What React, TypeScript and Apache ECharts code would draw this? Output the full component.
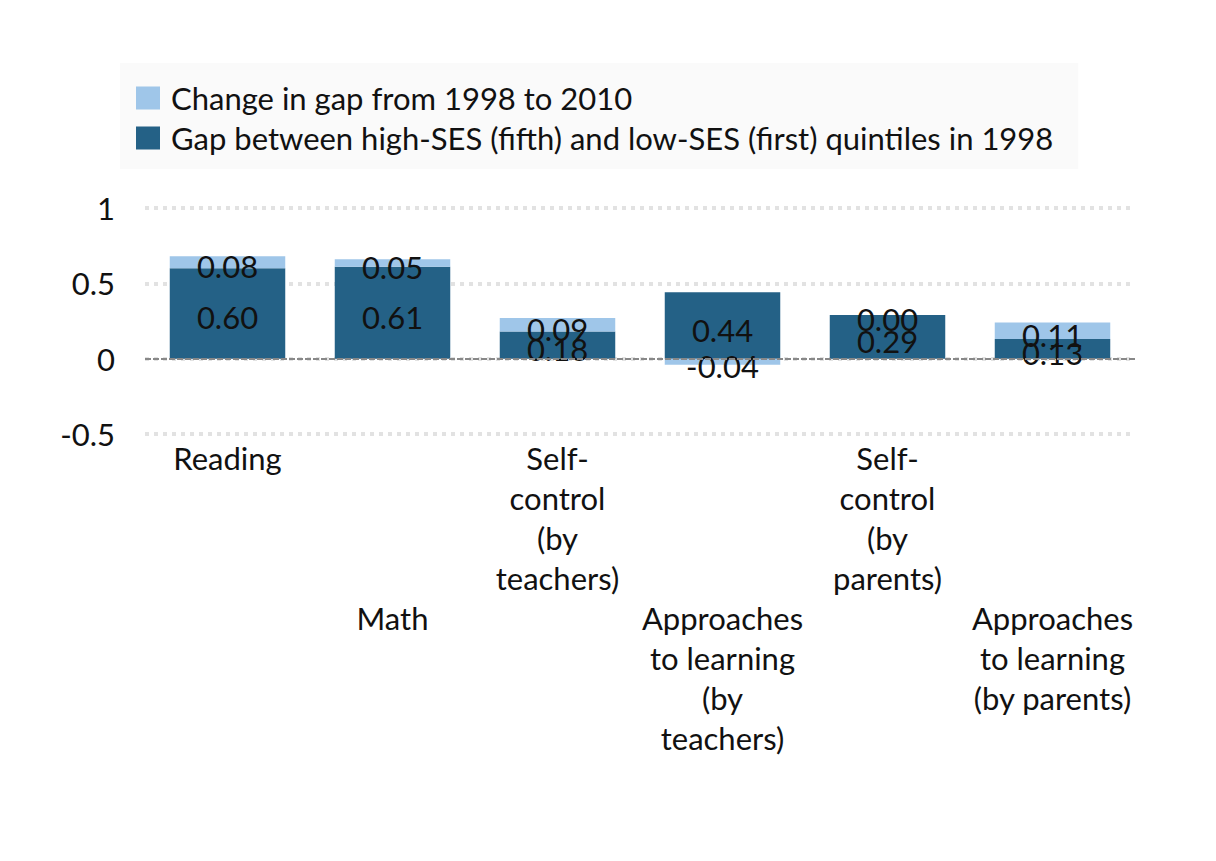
import React, { useEffect, useRef } from "react";
import * as echarts from "echarts";

const categories = [
  "Reading",
  "Math",
  "Self-\ncontrol\n(by\nteachers)",
  "Approaches\nto learning\n(by\nteachers)",
  "Self-\ncontrol\n(by\nparents)",
  "Approaches\nto learning\n(by parents)",
];
const gap1998 = [0.6, 0.61, 0.18, 0.44, 0.29, 0.13];
const change1998to2010 = [0.08, 0.05, 0.09, -0.04, 0.0, 0.11];
const gapName = "Gap between high-SES (fifth) and low-SES (first) quintiles in 1998";
const changeName = "Change in gap from 1998 to 2010";

const FONT = "Lato";
const FS = 31;

export default function App() {
  const ref = useRef<HTMLDivElement>(null);
  useEffect(() => {
    if (!ref.current) return;
    const chart = echarts.init(ref.current, null, { renderer: "svg" });
    const labelCfg = {
      show: true,
      position: "inside",
      color: "#111",
      fontSize: FS,
      fontFamily: FONT,
      offset: [0, 4],
      formatter: (p: any) => Number(p.value).toFixed(2),
    };
    chart.setOption({
      animation: false,
      backgroundColor: "#fff",
      textStyle: { fontFamily: FONT },
      legend: {
        orient: "vertical",
        left: 120,
        top: 63,
        padding: [18, 25, 14, 16],
        backgroundColor: "#fafafa",
        icon: "rect",
        itemWidth: 24,
        itemHeight: 23,
        itemGap: 6,
        data: [changeName, gapName],
        textStyle: {
          fontSize: FS,
          lineHeight: 34,
          color: "#111",
          fontFamily: FONT,
          padding: [0, 0, 0, 6],
        },
      },
      grid: { left: 145, right: 81, top: 208, bottom: 427, containLabel: false },
      xAxis: {
        type: "category",
        data: categories,
        axisLine: { show: false, onZero: false },
        axisTick: { show: false },
        axisLabel: {
          interval: 0,
          margin: 4,
          fontSize: FS,
          lineHeight: 40,
          color: "#111",
          fontFamily: FONT,
          formatter: (v: string, i: number) => (i % 2 === 1 ? "\n\n\n\n" + v : v),
        },
      },
      yAxis: {
        type: "value",
        min: -0.5,
        max: 1,
        interval: 0.5,
        axisLine: { show: false },
        axisTick: { show: false },
        axisLabel: { fontSize: FS, color: "#111", margin: 30, fontFamily: FONT },
        splitLine: { lineStyle: { type: [4, 5], width: 4, color: "#e2e2e2" } },
      },
      series: [
        {
          name: gapName,
          type: "bar",
          stack: "total",
          barWidth: "70%",
          data: gap1998,
          itemStyle: { color: "#246186" },
          label: labelCfg,
          markLine: {
            silent: true,
            symbol: "none",
            label: { show: false },
            lineStyle: { color: "#888", width: 2, type: [6, 2] },
            data: [{ yAxis: 0 }],
          },
          z: 2,
        },
        {
          name: changeName,
          type: "bar",
          stack: "total",
          barWidth: "70%",
          data: change1998to2010,
          itemStyle: { color: "#9fc6e9" },
          label: labelCfg,
          z: 2,
        },
      ],
    });
    return () => chart.dispose();
  }, []);
  return <div ref={ref} style={{ width: 1216, height: 861, margin: -8 }} />;
}
